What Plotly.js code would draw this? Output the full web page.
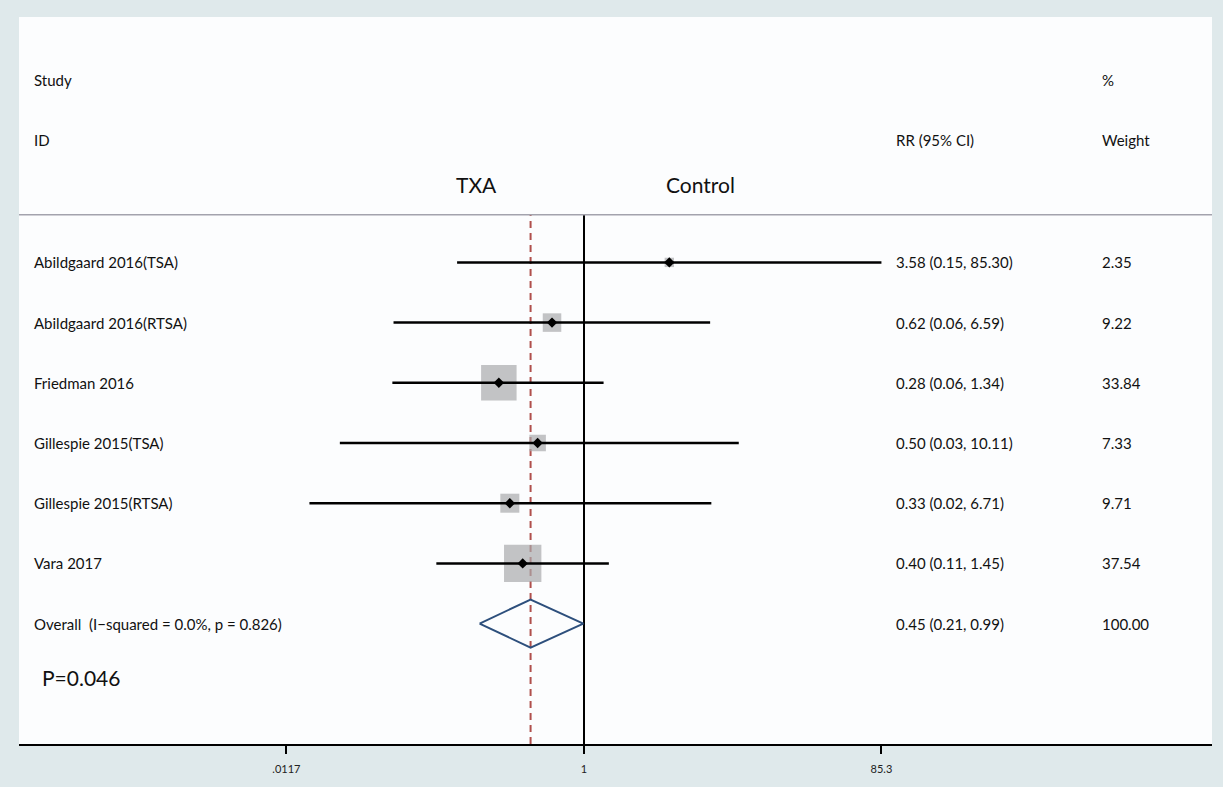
<!DOCTYPE html>
<html>
<head>
<meta charset="utf-8">
<script src="https://cdn.plot.ly/plotly-3.0.1.min.js"></script>
<style>html,body{margin:0;padding:0;background:#dfe9eb;}#chart{width:1223px;height:787px;}</style>
</head>
<body>
<div id="chart"></div>
<script>
// ---- data ----
const studies = ["Abildgaard 2016(TSA)", "Abildgaard 2016(RTSA)", "Friedman 2016", "Gillespie 2015(TSA)", "Gillespie 2015(RTSA)", "Vara 2017"];
const rr = [3.58, 0.62, 0.28, 0.50, 0.33, 0.40];
const ciLow = [0.15, 0.058, 0.057, 0.026, 0.0165, 0.11];
const ciHigh = [85.30, 6.59, 1.34, 10.11, 6.71, 1.45];
const weights = [2.35, 9.22, 33.84, 7.33, 9.71, 37.54];
const overallLabel = "Overall  (I\u2212squared = 0.0%, p = 0.826)";
const overallRR = 0.45, overallLow = 0.21, overallHigh = 0.99, overallWeight = 100.00;
const nullValue = 1;
const tickVals = [0.0117, 1, 85.3];
const tickLabels = [".0117", "1", "85.3"];
const pText = "P=0.046";

// ---- layout helpers ----
const W = 1223, H = 787;
const L = 19, R = 1212, T = 17, B = 744;
const px = v => (v - L) / (R - L);
const FONT = "Lato, sans-serif";
const rowY = studies.map((s, i) => 8 - i);
const overallY = 2;
const headerLineY = 8.79;
const fmt = v => v.toFixed(2);

const traces = [];
// overall estimate dashed line
traces.push({x: [overallRR, overallRR], y: [0, headerLineY], mode: 'lines', type: 'scatter',
  line: {color: '#b0504c', width: 2, dash: '7px,5px'}, hoverinfo: 'skip', showlegend: false});
// weight boxes
traces.push({x: rr, y: rowY, mode: 'markers', type: 'scatter',
  marker: {symbol: 'square', color: '#aaaaac', size: weights.map(w => Math.sqrt(w) * 6.1), line: {width: 0}},
  hoverinfo: 'skip', showlegend: false});
// null line
traces.push({x: [nullValue, nullValue], y: [0, headerLineY], mode: 'lines', type: 'scatter',
  line: {color: '#000', width: 2}, hoverinfo: 'skip', showlegend: false});
// CI lines
studies.forEach((s, i) => {
  traces.push({x: [ciLow[i], ciHigh[i]], y: [rowY[i], rowY[i]], mode: 'lines', type: 'scatter',
    line: {color: '#000', width: 2.5}, hoverinfo: 'skip', showlegend: false});
});
// point estimates
traces.push({x: rr, y: rowY, mode: 'markers', type: 'scatter',
  marker: {symbol: 'diamond', color: '#000', size: 8},
  hoverinfo: 'skip', showlegend: false});
// overall diamond
const dh = 0.4;
traces.push({x: [overallLow, overallRR, overallHigh, overallRR, overallLow],
  y: [overallY, overallY + dh, overallY, overallY - dh, overallY],
  mode: 'lines', type: 'scatter', line: {color: '#2d4f7c', width: 2}, hoverinfo: 'skip', showlegend: false});

const ann = [];
const txt = (x, y, text, size, extra) => Object.assign({xref: 'paper', yref: 'y', x: px(x), y: y, text: text,
  showarrow: false, xanchor: 'left', yanchor: 'middle', borderpad: 0,
  font: {family: FONT, size: size, color: '#111'}}, extra || {});
const S = 15;
ann.push(txt(33, 11.03, "Study", S));
ann.push(txt(33, 10.03, "ID", S));
ann.push(txt(895, 10.03, "RR (95% CI)", S));
ann.push(txt(1101, 11.03, "%", S));
ann.push(txt(1101, 10.03, "Weight", S));
ann.push(txt(476, 9.29, "TXA", 21, {xanchor: 'center'}));
ann.push(txt(700, 9.29, "Control", 21, {xanchor: 'center'}));
studies.forEach((s, i) => {
  ann.push(txt(33, rowY[i], s, S));
  ann.push(txt(895, rowY[i], fmt(rr[i]) + " (" + fmt(ciLow[i]) + ", " + fmt(ciHigh[i]) + ")", S));
  ann.push(txt(1101, rowY[i], fmt(weights[i]), S));
});
ann.push(txt(33, overallY, overallLabel, S));
ann.push(txt(895, overallY, fmt(overallRR) + " (" + fmt(overallLow) + ", " + fmt(overallHigh) + ")", S));
ann.push(txt(1101, overallY, fmt(overallWeight), S));
ann.push(txt(41, 1.1, pText, 21));

const shapes = [
  {type: 'line', xref: 'paper', yref: 'y', x0: 0, x1: 1, y0: headerLineY, y1: headerLineY, line: {color: '#a3a3ad', width: 1.5}}
];

const pxPerDecade = (881 - 286) / (Math.log10(85.3) - Math.log10(0.0117));
const xr0 = 0 - (584 - L) / pxPerDecade;
const xr1 = 0 + (R - 584) / pxPerDecade;

const layout = {
  width: W, height: H,
  margin: {l: L, r: W - R, t: T, b: H - B, pad: 0},
  paper_bgcolor: '#dfe9eb',
  plot_bgcolor: '#fcfdfe',
  font: {family: FONT},
  xaxis: {type: 'log', range: [xr0, xr1], tickvals: tickVals, ticktext: tickLabels,
    showgrid: false, zeroline: false, showline: true, linecolor: '#000', linewidth: 2,
    ticks: 'outside', ticklen: 8, tickwidth: 2, tickcolor: '#000', ticklabelstandoff: 6,
    tickfont: {family: FONT, size: 11, color: '#222'}, fixedrange: true},
  yaxis: {range: [0, (B - T) / 60.2], showgrid: false, zeroline: false, showline: false,
    showticklabels: false, ticks: '', fixedrange: true},
  shapes: shapes,
  annotations: ann,
  showlegend: false
};
Plotly.newPlot('chart', traces, layout, {displayModeBar: false, staticPlot: true});
</script>
</body>
</html>
